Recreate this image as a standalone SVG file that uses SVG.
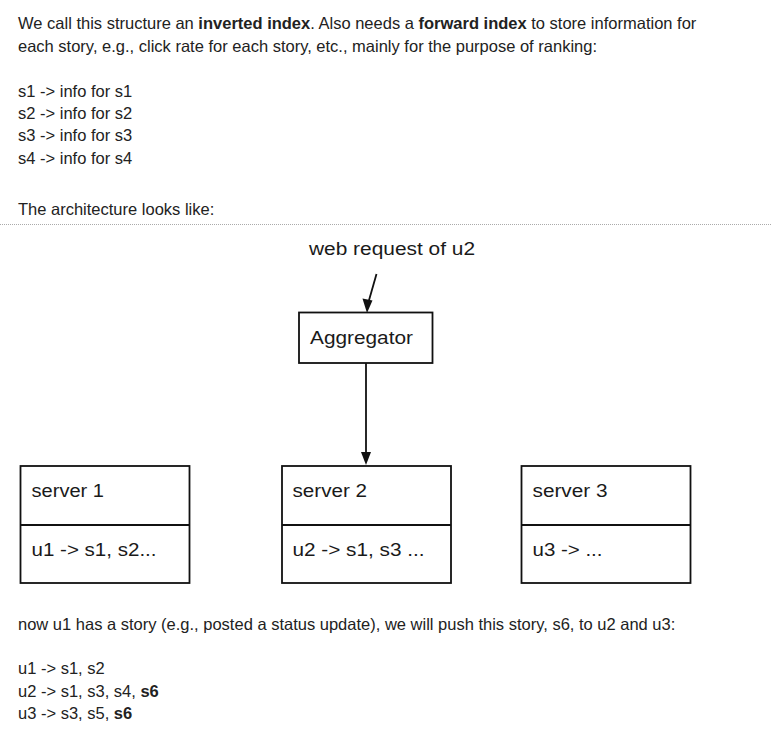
<svg xmlns="http://www.w3.org/2000/svg" width="772" height="730" viewBox="0 0 772 730">
<defs>
<style>
.t{font-family:"Liberation Sans",Arial,sans-serif;font-size:16.5px;fill:#222}
.b{font-weight:bold}
.d{font-family:"Liberation Sans",Arial,sans-serif;font-size:17.5px;fill:#1a1a1a}
.box{fill:#fff;stroke:#111;stroke-width:1.8}
.ln{stroke:#111;stroke-width:1.8;fill:none}
</style>
</defs>
<rect width="772" height="730" fill="#fff"/>
<g id="intro">
<text class="t" x="18" y="29">We call this structure an <tspan class="b">inverted index</tspan>. Also needs a <tspan class="b">forward index</tspan> to store information for</text>
<text class="t" x="18" y="51.5">each story, e.g., click rate for each story, etc., mainly for the purpose of ranking:</text>
<text class="t" x="18" y="96.5">s1 -&gt; info for s1</text>
<text class="t" x="18" y="119">s2 -&gt; info for s2</text>
<text class="t" x="18" y="141">s3 -&gt; info for s3</text>
<text class="t" x="18" y="163.5">s4 -&gt; info for s4</text>
<text class="t" x="18" y="215">The architecture looks like:</text>
<line x1="0" y1="224.5" x2="772" y2="224.5" stroke="#aaa" stroke-width="1" stroke-dasharray="1 1"/>
</g>
<g id="connectors">
<line class="ln" x1="376.5" y1="274" x2="368.5" y2="302"/>
<path d="M362.5,298.5 L367,313 L372.5,300.5 Z" fill="#111"/>
<line class="ln" x1="366" y1="363" x2="366" y2="453"/>
<path d="M361,452 L366,465 L371,452 Z" fill="#111"/>
</g>
<g id="webrequest">
<text class="d" x="309" y="255" textLength="166" lengthAdjust="spacingAndGlyphs">web request of u2</text>
</g>
<g id="aggregator">
<rect class="box" x="299" y="312.5" width="133.5" height="50.5"/>
<text class="d" x="310" y="344" textLength="103" lengthAdjust="spacingAndGlyphs">Aggregator</text>
</g>
<g id="server1">
<rect class="box" x="20.5" y="466" width="169" height="117"/>
<line class="ln" x1="20.5" y1="525" x2="189.5" y2="525"/>
<text class="d" x="31.5" y="497" textLength="72.5" lengthAdjust="spacingAndGlyphs">server 1</text>
<text class="d" x="31.5" y="556" textLength="125" lengthAdjust="spacingAndGlyphs">u1 -&gt; s1, s2...</text>
</g>
<g id="server2">
<rect class="box" x="282" y="466" width="169" height="117"/>
<line class="ln" x1="282" y1="525" x2="451" y2="525"/>
<text class="d" x="292.5" y="497" textLength="74.5" lengthAdjust="spacingAndGlyphs">server 2</text>
<text class="d" x="292.5" y="556" textLength="132" lengthAdjust="spacingAndGlyphs">u2 -&gt; s1, s3 ...</text>
</g>
<g id="server3">
<rect class="box" x="521.5" y="466" width="169" height="117"/>
<line class="ln" x1="521.5" y1="525" x2="690.5" y2="525"/>
<text class="d" x="532.5" y="497" textLength="75" lengthAdjust="spacingAndGlyphs">server 3</text>
<text class="d" x="532.5" y="556" textLength="70" lengthAdjust="spacingAndGlyphs">u3 -&gt; ...</text>
</g>
<g id="outro">
<text class="t" x="18" y="630">now u1 has a story (e.g., posted a status update), we will push this story, s6, to u2 and u3:</text>
<text class="t" x="18" y="674">u1 -&gt; s1, s2</text>
<text class="t" x="18" y="696.5">u2 -&gt; s1, s3, s4, <tspan class="b">s6</tspan></text>
<text class="t" x="18" y="719">u3 -&gt; s3, s5, <tspan class="b">s6</tspan></text>
</g>
</svg>
